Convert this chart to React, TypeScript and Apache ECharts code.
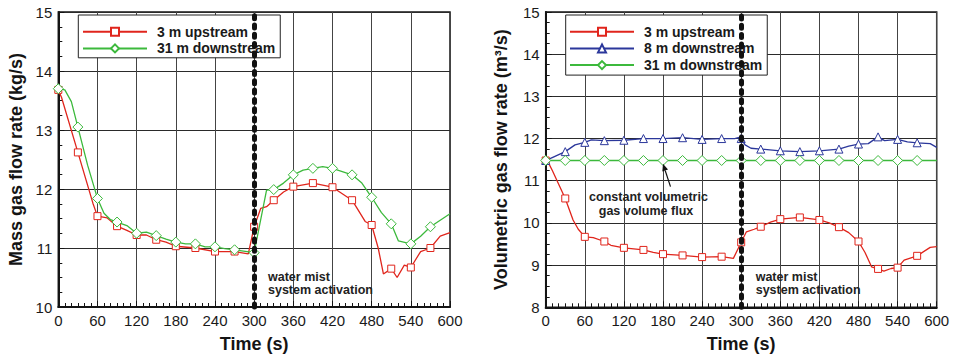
import { useEffect, useRef } from 'react';
import * as echarts from 'echarts';

// ---------- data (time in s, value) ----------
const massUp3: [number, number][] = [
  [0, 13.68], [5, 13.55], [30, 12.62], [53, 11.76], [60, 11.54], [75, 11.51], [90, 11.37], [105, 11.3],
  [120, 11.22], [135, 11.22], [150, 11.14], [165, 11.1], [180, 11.03], [210, 11.0], [240, 10.94],
  [270, 10.94], [291, 10.9], [300, 11.36], [310, 11.67], [319, 11.7], [330, 11.81], [345, 11.95],
  [360, 12.04], [390, 12.1], [420, 12.03], [450, 11.81], [470, 11.45], [480, 11.39], [490, 11.0],
  [498, 10.56], [510, 10.65], [519, 10.5], [530, 10.71], [540, 10.67], [555, 10.94], [570, 11.0],
  [585, 11.2], [600, 11.26],
];
const massDown31: [number, number][] = [
  [0, 13.7], [10, 13.68], [20, 13.48], [30, 13.05], [45, 12.4], [60, 11.84], [70, 11.59], [80, 11.48],
  [90, 11.44], [105, 11.38], [120, 11.25], [135, 11.27], [150, 11.21], [165, 11.15], [180, 11.1],
  [195, 11.07], [210, 11.07], [225, 11.02], [240, 11.02], [255, 10.99], [270, 10.97], [300, 10.92],
  [319, 11.98], [330, 11.99], [345, 12.1], [360, 12.24], [375, 12.32], [390, 12.35], [405, 12.38],
  [420, 12.35], [450, 12.24], [465, 12.1], [480, 11.86], [495, 11.6], [510, 11.41], [521, 11.12],
  [540, 11.07], [555, 11.2], [570, 11.36], [585, 11.47], [600, 11.58],
];
const volUp3: [number, number][] = [
  [0, 11.48], [5, 11.4], [10, 11.25], [30, 10.58], [42, 10.07], [50, 9.85], [60, 9.67], [73, 9.65],
  [90, 9.56], [100, 9.47], [120, 9.41], [150, 9.36], [165, 9.3], [180, 9.26], [210, 9.23], [240, 9.19],
  [270, 9.2], [288, 9.16], [300, 9.54], [308, 9.79], [320, 9.85], [330, 9.91], [345, 10.02], [360, 10.09],
  [390, 10.13], [420, 10.07], [435, 10.0], [450, 9.9], [465, 9.77], [480, 9.56], [490, 9.3], [500, 8.96],
  [510, 8.91], [519, 8.86], [530, 8.92], [540, 8.94], [550, 9.12], [570, 9.22], [590, 9.42], [600, 9.44],
];
const volDown8: [number, number][] = [
  [0, 11.48], [10, 11.55], [30, 11.69], [45, 11.85], [60, 11.91], [70, 11.97], [90, 11.95], [120, 11.96],
  [150, 12.0], [180, 12.0], [210, 12.02], [240, 11.98], [270, 12.0], [290, 12.0], [297, 12.03], [300, 12.0],
  [306, 11.85], [315, 11.77], [330, 11.75], [360, 11.71], [390, 11.69], [420, 11.71], [450, 11.75],
  [465, 11.82], [480, 11.87], [495, 11.88], [510, 12.04], [520, 11.95], [540, 11.98], [555, 11.92],
  [570, 11.9], [590, 11.88], [600, 11.79],
];
const volDown31: [number, number][] = [
  [0, 11.48], [30, 11.48], [60, 11.48], [90, 11.48], [120, 11.48], [150, 11.48], [180, 11.48],
  [210, 11.48], [240, 11.48], [270, 11.48], [300, 11.48], [330, 11.48], [360, 11.48], [390, 11.48],
  [420, 11.48], [450, 11.48], [480, 11.48], [510, 11.48], [540, 11.48], [570, 11.48], [600, 11.48],
];

const leftLegend = ['3 m upstream', '31 m downstream'];
const rightLegend = ['3 m upstream', '8 m downstream', '31 m downstream'];
const activationTime = 300;

const RED = '#e0251c';
const GREEN = '#3cb93c';
const BLUE = '#2b379b';
const INK = '#141414';
const FONT = '"Liberation Sans", Arial, Helvetica, sans-serif';

function xAx(gi: number) {
  return {
    type: 'value', gridIndex: gi, min: 0, max: 600, interval: 60,
    axisLine: { show: true, onZero: false, lineStyle: { color: INK, width: 2 } },
    axisTick: { show: true, inside: true, length: 6, lineStyle: { color: INK, width: 1 } },
    minorTick: { show: true, splitNumber: 6, length: 4, lineStyle: { color: INK, width: 1 } },
    axisLabel: { color: '#1a1a1a', fontSize: 15, fontFamily: FONT, margin: 6 },
    splitLine: { show: true, lineStyle: { color: '#444', width: 1 } },
    name: 'Time (s)', nameLocation: 'middle', nameGap: 28,
    nameTextStyle: { fontSize: 18, fontWeight: 'bold', color: INK, fontFamily: FONT },
  };
}
function yAx(gi: number, min: number, name: string, gap: number) {
  return {
    type: 'value', gridIndex: gi, min, max: 15, interval: 1,
    axisLine: { show: true, onZero: false, lineStyle: { color: INK, width: 2 } },
    axisTick: { show: true, inside: true, length: 6, lineStyle: { color: INK, width: 1 } },
    minorTick: { show: true, splitNumber: 4, length: 4, lineStyle: { color: INK, width: 1 } },
    axisLabel: { color: '#1a1a1a', fontSize: 15, fontFamily: FONT, margin: 6 },
    splitLine: { show: true, lineStyle: { color: '#2a2a2a', width: 1 } },
    name, nameLocation: 'middle', nameGap: gap,
    nameTextStyle: { fontSize: 18, fontWeight: 'bold', color: INK, fontFamily: FONT },
  };
}
function mkSeries(name: string, pts: [number, number][], color: string, symbol: string, size: number, gi: number, mark: boolean) {
  const s: any = {
    type: 'line', name, xAxisIndex: gi, yAxisIndex: gi,
    data: pts.map(([t, v]) => (t % 30 === 0 && t < 600 ? [t, v] : { value: [t, v], symbol: 'none' })),
    symbol, symbolSize: size, showAllSymbol: true,
    lineStyle: { color, width: 1.3 },
    itemStyle: { color: '#fff', borderColor: color, borderWidth: 1 },
    emphasis: { disabled: true },
  };
  if (mark) {
    s.markLine = {
      silent: true, symbol: 'none', label: { show: false }, z: 10,
      lineStyle: { color: '#111', width: 5, type: [3, 6.3], cap: 'round' },
      data: [{ xAxis: activationTime }],
    };
  }
  return s;
}
function legendCfg(left: number, data: string[], padLeft: number, padBottom: number) {
  return {
    orient: 'vertical', left, top: 15, padding: [9.7, 5, padBottom, padLeft], itemGap: 2.7,
    itemWidth: 64, itemHeight: 10, backgroundColor: '#fff', borderColor: '#222', borderWidth: 1,
    selectedMode: false, data,
    textStyle: { fontSize: 14, fontWeight: 'bold', color: '#1a1a1a', fontFamily: FONT, padding: [0, 0, 0, 5] },
  };
}
const annoStyle = (text: string, x: number, y: number, align = 'left') => ({
  type: 'text', x, y,
  style: { text, font: `bold 12.5px ${FONT}`, fill: '#222', textAlign: align, textVerticalAlign: 'middle' },
  z: 100,
});

export default function App() {
  const ref = useRef<HTMLDivElement>(null);
  useEffect(() => {
    if (!ref.current) return;
    const chart = echarts.init(ref.current, undefined, { renderer: 'svg' });
    const option: any = {
      animation: false,
      backgroundColor: '#fff',
      grid: [
        { left: 58.3, right: 507, top: 12, bottom: 51, show: true, borderColor: INK, borderWidth: 1.5, backgroundColor: 'transparent', outerBoundsMode: 'none' },
        { left: 545.7, right: 20.3, top: 12, bottom: 50.7, show: true, borderColor: INK, borderWidth: 1.5, backgroundColor: 'transparent', outerBoundsMode: 'none' },
      ],
      xAxis: [xAx(0), xAx(1)],
      yAxis: [yAx(0, 10, 'Mass gas flow rate (kg/s)', 33), yAx(1, 8, 'Volumetric gas flow rate (m³/s)', 36)],
      legend: [legendCfg(78.3, leftLegend, 3.7, 2.4), legendCfg(565.7, rightLegend, 3.3, 3)],
      series: [
        mkSeries('3 m upstream', massUp3, RED, 'rect', 7, 0, true),
        mkSeries('31 m downstream', massDown31, GREEN, 'diamond', 10, 0, false),
        mkSeries('3 m upstream', volUp3, RED, 'rect', 7, 1, true),
        mkSeries('8 m downstream', volDown8, BLUE, 'triangle', 8, 1, false),
        mkSeries('31 m downstream', volDown31, GREEN, 'diamond', 10, 1, false),
      ],
    };
    chart.setOption(option);
    const tip = chart.convertToPixel({ gridIndex: 1 }, [180, 11.4]) as number[];
    const tail = chart.convertToPixel({ gridIndex: 1 }, [191.5, 10.86]) as number[];
    // arrow (points to the constant-flux curve)
    const dx = tip[0] - tail[0], dy = tip[1] - tail[1];
    const L = Math.hypot(dx, dy), ux = dx / L, uy = dy / L;
    const hl = 7, hw = 3;
    const bx = tip[0] - ux * hl, by = tip[1] - uy * hl;
    chart.setOption({
      graphic: [
        annoStyle('water mist', 268, 277),
        annoStyle('system activation', 268, 289.5),
        annoStyle('water mist', 755.7, 277),
        annoStyle('system activation', 755.7, 289.5),
        annoStyle('constant volumetric', 648.5, 197, 'center'),
        annoStyle('gas volume flux', 646, 211, 'center'),
        { type: 'line', z: 100, shape: { x1: tail[0], y1: tail[1], x2: bx, y2: by }, style: { stroke: '#111', lineWidth: 1.2 } },
        {
          type: 'polygon', z: 100,
          shape: { points: [[tip[0], tip[1]], [bx - uy * hw, by + ux * hw], [bx + uy * hw, by - ux * hw]] },
          style: { fill: '#111' },
        },
      ],
    });
    return () => chart.dispose();
  }, []);
  return <div ref={ref} style={{ position: 'fixed', left: 0, top: 0, width: 957, height: 358, background: '#fff' }} />;
}
